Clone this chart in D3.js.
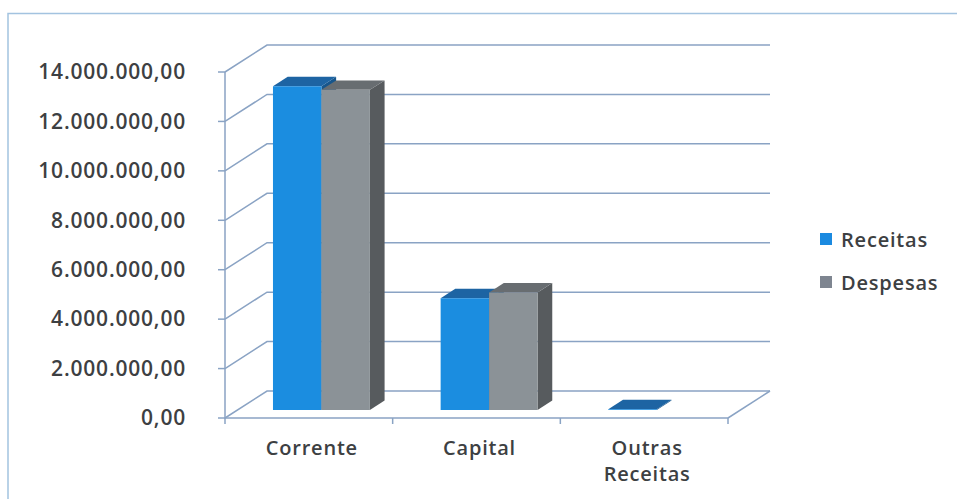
<!DOCTYPE html>
<html lang="pt">
<head>
  <meta charset="UTF-8">
  <title>Receitas e Despesas</title>
  <script src="https://d3js.org/d3.v7.min.js"></script>
  <style>
    body { margin: 0; background: #fff; }
    text { font-family: "Open Sans", sans-serif; fill: #3d4042; font-weight: 600; letter-spacing: 0.8px; }
  </style>
</head>
<body>
  <svg id="svg1"></svg>
  <script>
    const categories = [["Corrente"], ["Capital"], ["Outras", "Receitas"]];
    const series = ["Receitas", "Despesas"];
    const receitas = [13100000, 4520000, 30000];
    const despesas = [12950000, 4750000, 0];
    const yTicks = [0, 2000000, 4000000, 6000000, 8000000, 10000000, 12000000, 14000000];

    const width = 957, height = 499;
    // oblique depth of the plot box
    const depth = {dx: 42, dy: -27};
    const barFront = 0.3, barBack = 0.65;
    const colors = {
      Receitas: {front: "#1b8de0", top: "#1d64a3", side: "#17568c"},
      Despesas: {front: "#8b9297", top: "#686d71", side: "#575b5e"}
    };
    const gridColor = "#8aa3c4";

    const locale = d3.formatLocale({decimal: ",", thousands: ".", grouping: [3], currency: ["", ""]});
    const fmt = locale.format(",.2f");

    const svg = d3.select('#svg1').attr('width', width).attr('height', height);

    // outer frame
    svg.append('path')
      .attr('d', `M8,${height} L8,13.5 L${width},13.5`)
      .attr('fill', 'none').attr('stroke', '#a3c3e0').attr('stroke-width', 1.5);

    const xScale = d3.scaleBand()
      .domain(d3.range(categories.length))
      .range([225, 728]);
    const xSub = d3.scaleBand()
      .domain(series)
      .range([0, xScale.bandwidth()])
      .paddingOuter(0.73);
    const yScale = d3.scaleLinear()
      .domain([0, 14000000])
      .range([418, 72]);

    const proj = (x, y, f) => [x + f * depth.dx, y + f * depth.dy];
    const poly = pts => 'M' + pts.map(p => p.join(',')).join('L') + 'Z';

    const x0 = xScale.range()[0], x1 = xScale.range()[1];
    const grid = svg.append('g').attr('stroke', gridColor).attr('stroke-width', 1.5).attr('fill', 'none');

    // back wall gridlines + side wall lines
    yTicks.forEach(t => {
      const y = yScale(t);
      const b0 = proj(x0, y, 1), b1 = proj(x1, y, 1);
      grid.append('path').attr('d', `M${x0},${y}L${b0[0]},${b0[1]}L${b1[0]},${b1[1]}`);
    });
    // floor
    const fb = proj(x1, yScale(0), 1);
    grid.append('path').attr('d', `M${x1},${yScale(0)}L${fb[0]},${fb[1]}`);

    // bars
    const barsG = svg.append('g');
    categories.forEach((c, i) => {
      series.forEach((s, j) => {
        const v = (j === 0 ? receitas : despesas)[i];
        if (v <= 0) return;
        const xl = xScale(i) + xSub(s), xr = xl + xSub.bandwidth();
        const yb = yScale(0), yt = yScale(v);
        const col = colors[s];
        const fl = proj(xl, yt, barFront), fr = proj(xr, yt, barFront);
        const bl = proj(xl, yt, barBack), br = proj(xr, yt, barBack);
        const frb = proj(xr, yb, barFront), brb = proj(xr, yb, barBack);
        const flb = proj(xl, yb, barFront);
        // side
        barsG.append('path').attr('d', poly([fr, br, brb, frb])).attr('fill', col.side);
        // top
        barsG.append('path').attr('d', poly([fl, bl, br, fr])).attr('fill', col.top);
        // front
        barsG.append('path').attr('d', poly([fl, fr, frb, flb])).attr('fill', col.front);
      });
    });

    // front axes
    const axes = svg.append('g').attr('stroke', gridColor).attr('stroke-width', 1.5).attr('fill', 'none');
    axes.append('path').attr('d', `M${x0},${yScale(14000000)}L${x0},${yScale(0)}L${x1},${yScale(0)}`);
    yTicks.forEach(t => {
      axes.append('path').attr('d', `M${x0 - 7},${yScale(t)}L${x0},${yScale(t)}`);
    });
    d3.range(categories.length + 1).forEach(i => {
      const x = i < categories.length ? xScale(i) : x1;
      axes.append('path').attr('d', `M${x},${yScale(0)}L${x},${yScale(0) + 6}`);
    });

    // y labels
    svg.append('g').selectAll('text').data(yTicks).join('text')
      .attr('x', 186).attr('y', d => yScale(d))
      .attr('dy', '0.35em')
      .attr('text-anchor', 'end')
      .attr('font-size', 21)
      .text(d => fmt(d));

    // category labels
    const catG = svg.append('g');
    categories.forEach((c, i) => {
      const cx = xScale(i) + xScale.bandwidth() / 2 + 3;
      const t = catG.append('text')
        .attr('x', cx)
        .attr('y', 455)
        .attr('text-anchor', 'middle')
        .attr('font-size', 20);
      c.forEach((line, k) => t.append('tspan')
        .attr('x', cx)
        .attr('dy', k === 0 ? 0 : 26).text(line));
    });

    // legend
    const legend = svg.append('g').attr('transform', 'translate(820,233)');
    series.forEach((s, j) => {
      const g = legend.append('g').attr('transform', `translate(0,${j * 43})`);
      g.append('rect').attr('width', 12).attr('height', 12).attr('fill', j === 0 ? "#1b8ae0" : "#7e8590");
      g.append('text').attr('x', 21).attr('y', 6).attr('dy', '0.38em').attr('font-size', 20).text(s);
    });
  </script>
</body>
</html>
